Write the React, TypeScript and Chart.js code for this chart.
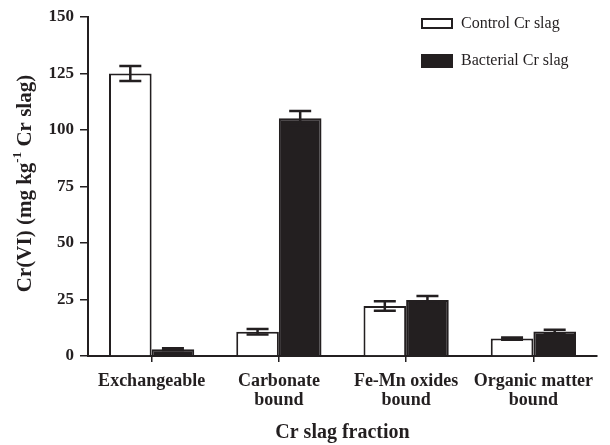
import React, { useEffect, useRef } from 'react';
import { Chart, registerables } from 'chart.js';

Chart.register(...registerables);

const categories: string[][] = [
  ['Exchangeable'],
  ['Carbonate', 'bound'],
  ['Fe-Mn oxides', 'bound'],
  ['Organic matter', 'bound'],
];
const seriesLabels = ['Control Cr slag', 'Bacterial Cr slag'];
const controlValues = [125, 10.7, 22.1, 7.7];
const controlErrors = [3.3, 1.2, 2.1, 0.5];
const bacterialValues = [3.0, 105.2, 24.8, 10.8];
const bacterialErrors = [0.4, 3.2, 1.7, 0.8];
const yMin = 0;
const yMax = 150;
const yStep = 25;
const xTitle = 'Cr slag fraction';
const yTitleMain = 'Cr(VI) (mg kg';
const yTitleSup = '-1';
const yTitleEnd = ' Cr slag)';

const INK = '#231f20';
const SERIF = '"Liberation Serif", "Times New Roman", serif';

const errorBarPlugin = {
  id: 'errorBars',
  afterDatasetsDraw(chart: any) {
    const ctx = chart.ctx;
    const yScale = chart.scales.y;
    const errs = [controlErrors, bacterialErrors];
    ctx.save();
    ctx.strokeStyle = INK;
    ctx.lineWidth = 2.5;
    chart.data.datasets.forEach((ds: any, i: number) => {
      const meta = chart.getDatasetMeta(i);
      meta.data.forEach((bar: any, j: number) => {
        const v = ds.data[j];
        const e = errs[i][j];
        const x = bar.x;
        const yTop = yScale.getPixelForValue(v + e);
        const yBot = yScale.getPixelForValue(v - e);
        const hw = 11;
        ctx.beginPath();
        ctx.moveTo(x, yTop);
        ctx.lineTo(x, yBot);
        ctx.moveTo(x - hw, yTop);
        ctx.lineTo(x + hw, yTop);
        ctx.moveTo(x - hw, yBot);
        ctx.lineTo(x + hw, yBot);
        ctx.stroke();
      });
    });
    ctx.restore();
  },
};

const legendPlugin = {
  id: 'customLegend',
  afterDraw(chart: any) {
    const ctx = chart.ctx;
    const area = chart.chartArea;
    const bx = area.right - 175;
    const rows = [
      { y: area.top + 2, h: 9, fill: '#ffffff' },
      { y: area.top + 38, h: 12, fill: INK },
    ];
    ctx.save();
    ctx.font = `16px ${SERIF}`;
    ctx.textBaseline = 'middle';
    ctx.textAlign = 'left';
    rows.forEach((r, i) => {
      ctx.fillStyle = r.fill;
      ctx.fillRect(bx, r.y, 30, r.h);
      ctx.strokeStyle = INK;
      ctx.lineWidth = 2;
      ctx.strokeRect(bx, r.y, 30, r.h);
      ctx.fillStyle = INK;
      ctx.fillText(seriesLabels[i], bx + 39, r.y + r.h / 2);
    });
    ctx.restore();
  },
};

const yTitlePlugin = {
  id: 'yTitle',
  afterDraw(chart: any) {
    const ctx = chart.ctx;
    const area = chart.chartArea;
    ctx.save();
    const mainFont = `bold 21px ${SERIF}`;
    const supFont = `bold 13px ${SERIF}`;
    ctx.font = mainFont;
    const w1 = ctx.measureText(yTitleMain).width;
    const w3 = ctx.measureText(yTitleEnd).width;
    ctx.font = supFont;
    const w2 = ctx.measureText(yTitleSup).width;
    const total = w1 + w2 + w3;
    const cy = (area.top + area.bottom) / 2 - 3;
    ctx.translate(26, cy);
    ctx.rotate(-Math.PI / 2);
    ctx.fillStyle = INK;
    ctx.textBaseline = 'middle';
    ctx.textAlign = 'left';
    let x = -total / 2;
    ctx.font = mainFont;
    ctx.fillText(yTitleMain, x, 0);
    x += w1;
    ctx.font = supFont;
    ctx.fillText(yTitleSup, x, -8);
    x += w2;
    ctx.font = mainFont;
    ctx.fillText(yTitleEnd, x, 0);
    ctx.restore();
  },
};

export default function App() {
  const ref = useRef<HTMLCanvasElement>(null);
  useEffect(() => {
    if (!ref.current) return;
    const chart = new Chart(ref.current, {
      type: 'bar',
      data: {
        labels: categories,
        datasets: [
          {
            label: seriesLabels[0],
            data: controlValues,
            backgroundColor: '#ffffff',
            borderColor: INK,
            borderWidth: 2,
            categoryPercentage: 0.67,
            barPercentage: 1,
          },
          {
            label: seriesLabels[1],
            data: bacterialValues,
            backgroundColor: INK,
            borderColor: INK,
            borderWidth: 2,
            categoryPercentage: 0.67,
            barPercentage: 1,
          },
        ],
      },
      options: {
        animation: false,
        responsive: false,
        maintainAspectRatio: false,
        layout: { padding: { left: 0, top: 17, right: 13, bottom: 0 } },
        plugins: {
          legend: { display: false },
          tooltip: { enabled: false },
        },
        scales: {
          x: {
            afterFit: (s: any) => { s.height = 89; },
            grid: {
              display: true,
              drawOnChartArea: false,
              drawTicks: true,
              tickLength: 6,
              offset: false,
              color: INK,
              lineWidth: 1.5,
            },
            border: { display: true, color: INK, width: 2 },
            ticks: {
              color: INK,
              font: { family: SERIF, size: 18, weight: 'bold', lineHeight: 1.1 },
              padding: 9,
              maxRotation: 0,
              autoSkip: false,
            },
            title: {
              display: true,
              text: xTitle,
              color: INK,
              font: { family: SERIF, size: 20, weight: 'bold' },
              padding: { top: 0, bottom: 0 },
            },
          },
          y: {
            min: yMin,
            max: yMax,
            afterFit: (s: any) => { s.width = 88; },
            grid: {
              display: true,
              drawOnChartArea: false,
              drawTicks: true,
              tickLength: 8,
              color: INK,
              lineWidth: 1.5,
            },
            border: { display: true, color: INK, width: 2 },
            ticks: {
              stepSize: yStep,
              color: INK,
              font: { family: SERIF, size: 17, weight: 'bold' },
              padding: 6,
            },
          },
        },
      },
      plugins: [errorBarPlugin, legendPlugin, yTitlePlugin],
    });
    return () => chart.destroy();
  }, []);
  return (
    <div style={{ position: 'absolute', left: 0, top: 0, width: 610, height: 445, background: '#fff' }}>
      <canvas ref={ref} width={610} height={445} style={{ width: 610, height: 445 }} />
    </div>
  );
}
